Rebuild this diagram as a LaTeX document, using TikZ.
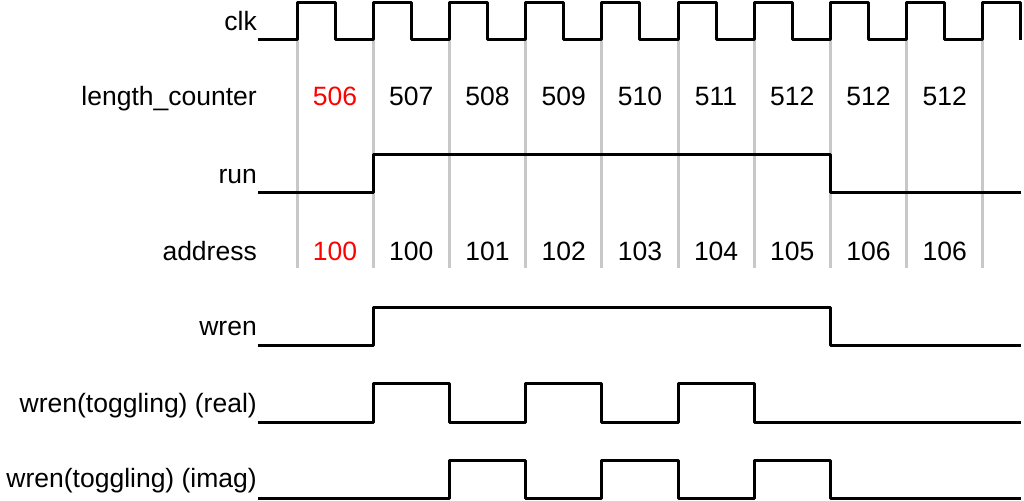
\documentclass[tikz,border=0pt]{standalone}
\usepackage{fontspec}
\setmainfont{Liberation Sans}
\definecolor{gridgray}{RGB}{200,200,200}
\definecolor{hotred}{RGB}{255,0,0}
\begin{document}
\begin{tikzpicture}[x=1pt,y=-1pt,
  wave/.style={line width=3pt, line join=round},
  gridline/.style={line width=3pt, draw=gridgray},
  lab/.style={anchor=base east, inner sep=0pt, font=\fontsize{26.5}{30}\selectfont},
  val/.style={anchor=base, inner sep=0pt, font=\fontsize{26.5}{30}\selectfont},
  first/.style={text=hotred}]
\useasboundingbox (0,0) rectangle (1024,500);
% grid lines at rising clock edges
\foreach \k in {0,...,9}
  \draw[gridline] ({297+76.2*\k},40) -- ({297+76.2*\k},268);
% labels
\node[lab] (lclk) at (257,31) {clk};
\node[lab] (llen) at (257,106) {length\_counter};
\node[lab] (lrun) at (257,183) {run};
\node[lab] (laddr) at (257,260) {address};
\node[lab] (lwren) at (257,335) {wren};
\node[lab] (lreal) at (257,412) {wren(toggling) (real)};
\node[lab] (limag) at (257,487) {wren(toggling) (imag)};
% values
\foreach \v [count=\i from 0] in {506,507,508,509,510,511,512,512,512}{
  \ifnum\i=0
    \node[val,first] (len\i) at ({335.1+76.2*\i},106) {\v};
  \else
    \node[val] (len\i) at ({335.1+76.2*\i},106) {\v};
  \fi
}
\foreach \v [count=\i from 0] in {100,100,101,102,103,104,105,106,106}{
  \ifnum\i=0
    \node[val,first] (adr\i) at ({335.1+76.2*\i},260) {\v};
  \else
    \node[val] (adr\i) at ({335.1+76.2*\i},260) {\v};
  \fi
}
% clk
\draw[wave] (258,40) foreach \k in {0,...,9} { -- ({297+76.2*\k},40) -- ({297+76.2*\k},3) -- ({335.1+76.2*\k},3) -- ({335.1+76.2*\k},40) };
% run
\draw[wave] (258,192) -- (373.2,192) -- (373.2,154) -- (830.4,154) -- (830.4,192) -- (1020.9,192);
% wren
\draw[wave] (258,345) -- (373.2,345) -- (373.2,307) -- (830.4,307) -- (830.4,345) -- (1020.9,345);
% wren real
\draw[wave] (258,422) -- (373.2,422) -- (373.2,383) -- (449.4,383) -- (449.4,422) -- (525.6,422) -- (525.6,383) -- (601.8,383) -- (601.8,422) -- (678,422) -- (678,383) -- (754.2,383) -- (754.2,422) -- (1020.9,422);
% wren imag
\draw[wave] (258,498) -- (449.4,498) -- (449.4,460) -- (525.6,460) -- (525.6,498) -- (601.8,498) -- (601.8,460) -- (678,460) -- (678,498) -- (754.2,498) -- (754.2,460) -- (830.4,460) -- (830.4,498) -- (1020.9,498);
\end{tikzpicture}
\end{document}
